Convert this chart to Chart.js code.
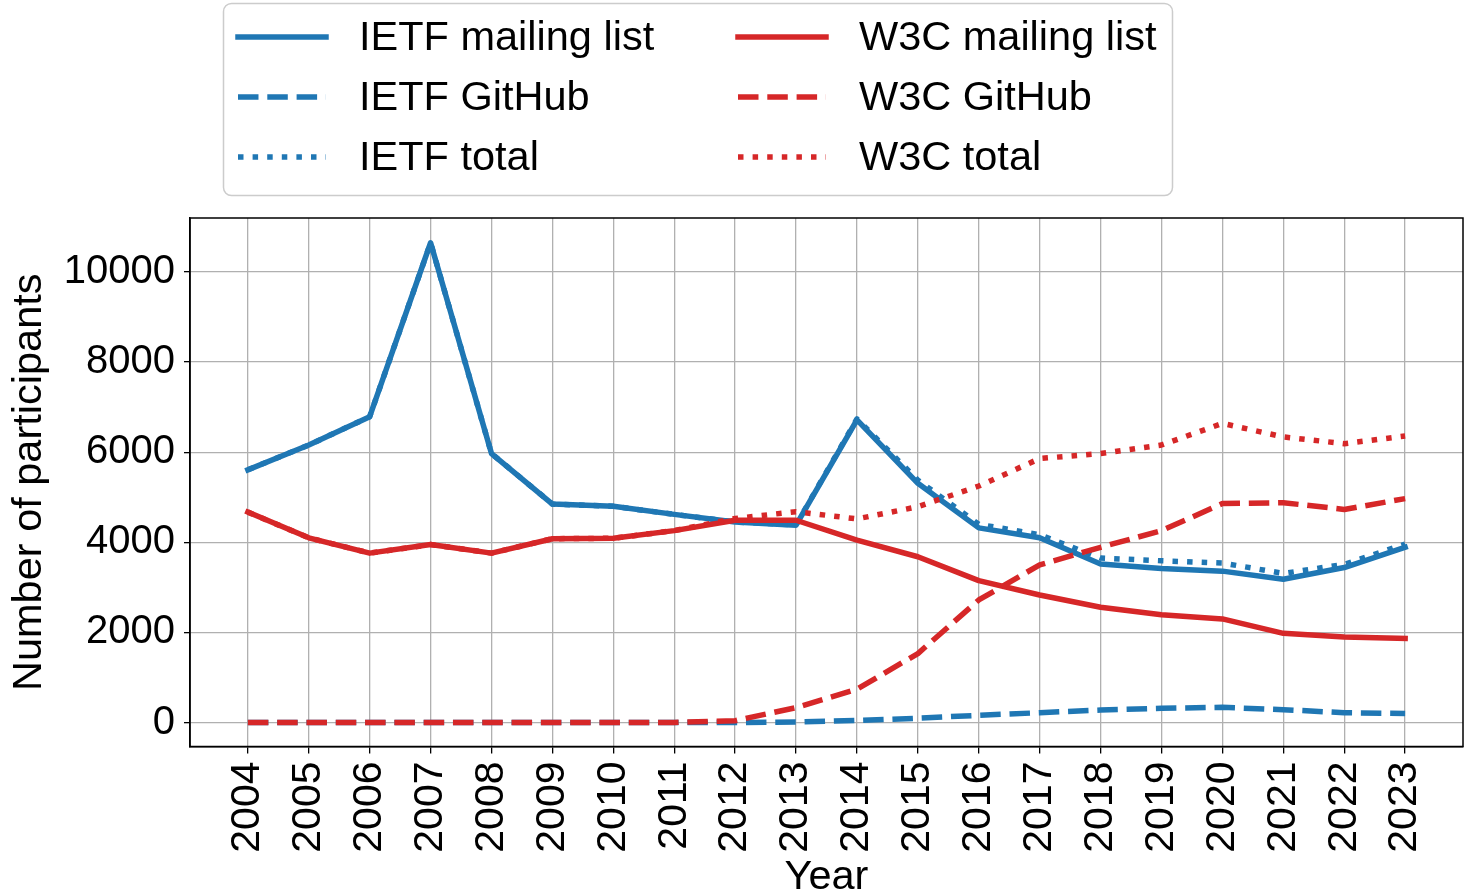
<!DOCTYPE html>
<html lang="en">
<head>
    <meta charset="UTF-8">
    <title>IETF vs W3C participants</title>
    <script src="https://cdn.jsdelivr.net/npm/chart.js"></script>
    <style>
        html, body { margin: 0; padding: 0; background: #fff; overflow: hidden; }
        canvas { display: block; }
    </style>
</head>
<body>
    <canvas id="grafico" width="1466" height="894"></canvas>

    <script>
        // years on the x axis
        const years = [2004, 2005, 2006, 2007, 2008, 2009, 2010, 2011, 2012, 2013,
                       2014, 2015, 2016, 2017, 2018, 2019, 2020, 2021, 2022, 2023];
        const yTicks = [0, 2000, 4000, 6000, 8000, 10000];

        // values
        const ietfMailing = [5610, 6160, 6790, 10650, 5970, 4850, 4800, 4620, 4450, 4380,
                             6720, 5310, 4320, 4100, 3520, 3420, 3360, 3180, 3440, 3890];
        const ietfGithub  = [0, 0, 0, 0, 0, 0, 0, 0, 0, 10,
                             45, 95, 160, 217, 277, 315, 337, 285, 217, 202];
        const ietfTotal   = [5610, 6160, 6790, 10650, 5970, 4850, 4800, 4620, 4450, 4390,
                             6740, 5380, 4400, 4170, 3650, 3590, 3540, 3310, 3510, 3960];
        const w3cMailing  = [4670, 4100, 3760, 3950, 3760, 4080, 4090, 4260, 4490, 4490,
                             4050, 3680, 3150, 2830, 2560, 2390, 2300, 1980, 1900, 1865];
        const w3cGithub   = [0, 0, 0, 0, 0, 0, 0, 0, 40, 330,
                             740, 1530, 2720, 3500, 3890, 4260, 4860, 4880, 4730, 4970];
        const w3cTotal    = [4670, 4100, 3760, 3950, 3760, 4080, 4090, 4260, 4530, 4680,
                             4520, 4790, 5250, 5860, 5970, 6160, 6640, 6340, 6190, 6360];

        const azul = '#1f77b4';
        const rojo = '#d62728';
        const lw = 5.5;
        const dashed = [20.5, 8.8];
        const dotted = [5.5, 9.1];
        const fuente = '"Liberation Sans", Arial, Helvetica, sans-serif';

        function serie(label, valores, color, dash, orden) {
            return {
                label: label,
                data: years.map((y, i) => ({ x: y, y: valores[i] })),
                borderColor: color,
                backgroundColor: color,
                borderWidth: lw,
                borderDash: dash,
                borderCapStyle: dash.length ? 'butt' : 'square',
                borderJoinStyle: 'round',
                fill: false,
                tension: 0,
                pointRadius: 0,
                order: orden
            };
        }

        // la ultima serie queda encima (como en matplotlib)
        const datasets = [
            serie('IETF mailing list', ietfMailing, azul, [], 6),
            serie('IETF GitHub', ietfGithub, azul, dashed, 5),
            serie('IETF total', ietfTotal, azul, dotted, 4),
            serie('W3C mailing list', w3cMailing, rojo, [], 3),
            serie('W3C GitHub', w3cGithub, rojo, dashed, 2),
            serie('W3C total', w3cTotal, rojo, dotted, 1)
        ];

        // marco completo + leyenda en dos columnas
        const marco = {
            id: 'marco',
            afterDatasetsDraw(chart) {
                const { ctx, chartArea: a } = chart;
                ctx.save();
                ctx.strokeStyle = '#000';
                ctx.lineWidth = 1.5;
                ctx.strokeRect(a.left, a.top, a.right - a.left, a.bottom - a.top);
                ctx.restore();
            }
        };

        const leyenda = {
            id: 'leyenda',
            afterDraw(chart) {
                const ctx = chart.ctx;
                ctx.save();
                ctx.beginPath();
                ctx.roundRect(223.5, 3.5, 949, 192, 8);
                ctx.fillStyle = 'rgba(255,255,255,0.8)';
                ctx.fill();
                ctx.strokeStyle = '#cccccc';
                ctx.lineWidth = 1.5;
                ctx.stroke();

                const colX = [238, 738];
                const rowY = [37, 97, 157];
                chart.data.datasets.forEach((ds, i) => {
                    const c = Math.floor(i / 3), r = i % 3;
                    const x0 = colX[c], y0 = rowY[r];
                    ctx.beginPath();
                    ctx.setLineDash(ds.borderDash);
                    ctx.lineCap = ds.borderCapStyle;
                    ctx.strokeStyle = ds.borderColor;
                    ctx.lineWidth = ds.borderWidth;
                    ctx.moveTo(x0, y0);
                    ctx.lineTo(x0 + 88, y0);
                    ctx.stroke();
                    ctx.setLineDash([]);
                    ctx.fillStyle = '#000';
                    ctx.font = '41.5px ' + fuente;
                    ctx.textBaseline = 'middle';
                    ctx.textAlign = 'left';
                    ctx.fillText(ds.label, x0 + 121, y0 + 2);
                });
                ctx.restore();
            }
        };

        new Chart(document.getElementById('grafico'), {
            type: 'line',
            data: { datasets: datasets },
            plugins: [marco, leyenda],
            options: {
                responsive: false,
                animation: false,
                layout: { padding: { top: 218, right: 3, left: 0, bottom: 0 } },
                plugins: {
                    legend: { display: false },
                    tooltip: { enabled: false }
                },
                scales: {
                    x: {
                        type: 'linear',
                        min: 2003.05,
                        max: 2023.95,
                        afterBuildTicks: (s) => { s.ticks = years.map(v => ({ value: v })); },
                        afterFit: (s) => { s.height = 147.5; },
                        ticks: {
                            autoSkip: false,
                            maxRotation: 90,
                            minRotation: 90,
                            padding: 8,
                            color: '#000',
                            font: { family: fuente, size: 41 },
                            callback: (v) => String(v)
                        },
                        grid: { color: '#b0b0b0', lineWidth: 1.3, tickColor: '#000', tickLength: 7 },
                        border: { color: '#000', width: 1.5 },
                        title: {
                            display: true,
                            text: 'Year',
                            color: '#000',
                            font: { family: fuente, size: 41.5, lineHeight: 0.8 },
                            padding: 0
                        }
                    },
                    y: {
                        type: 'linear',
                        min: -533,
                        max: 11200,
                        afterBuildTicks: (s) => { s.ticks = yTicks.map(v => ({ value: v })); },
                        afterFit: (s) => { s.width = 190; },
                        ticks: {
                            padding: 9,
                            color: '#000',
                            font: { family: fuente, size: 40 },
                            callback: (v) => String(v)
                        },
                        grid: { color: '#b0b0b0', lineWidth: 1.3, tickColor: '#000', tickLength: 6 },
                        border: { color: '#000', width: 1.5 },
                        title: {
                            display: true,
                            text: 'Number of participants',
                            color: '#000',
                            font: { family: fuente, size: 41.5, lineHeight: 1.2 },
                            padding: { top: 5, bottom: 0 }
                        }
                    }
                }
            }
        });
    </script>
</body>
</html>
